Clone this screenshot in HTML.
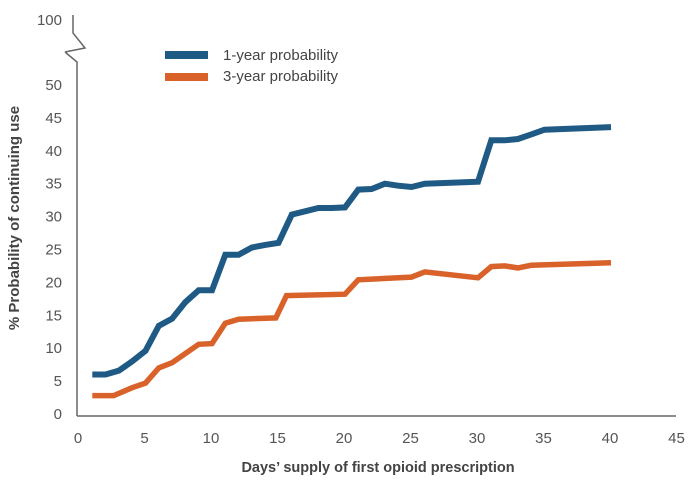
<!DOCTYPE html>
<html><head><meta charset="utf-8"><style>
body{margin:0;background:#fff;}
svg{font-family:"Liberation Sans",sans-serif;}
</style></head><body>
<svg width="696" height="494" viewBox="0 0 696 494" id="chart">
<g id="axes"></g>
<g id="series"></g>
<g>
<line x1="165" y1="55" x2="208" y2="55" stroke="#1f5a85" stroke-width="8"/>
<text x="223" y="60" font-size="15" fill="#444">1-year probability</text>
<line x1="165" y1="77" x2="208" y2="77" stroke="#d9622b" stroke-width="8"/>
<text x="223" y="81" font-size="15" fill="#444">3-year probability</text>
</g>
<text x="19" y="218" transform="rotate(-90 19 218)" text-anchor="middle" font-size="15" font-weight="bold" fill="#444">% Probability of continuing use</text>
<text x="378" y="472" text-anchor="middle" font-size="14.5" font-weight="bold" fill="#444">Days’ supply of first opioid prescription</text>
</svg>
<script>
const xTicks=[0,5,10,15,20,25,30,35,40,45];
const yTicks=[0,5,10,15,20,25,30,35,40,45,50];
const days1=[1,2,3,4,5,6,7,8,9,10,11,12,13,14,15,16,17,18,19,20,21,22,23,24,25,26,30,31,32,33,34,35,40];
const prob1=[6,6,6.6,8,9.6,13.4,14.5,17,18.8,18.8,24.2,24.2,25.3,25.7,26,30.3,30.8,31.3,31.3,31.4,34.1,34.2,35,34.7,34.5,35,35.3,41.6,41.6,41.8,42.5,43.2,43.6];
const days3=[1,2,2.6,4,5,6,7,8,9,10,11,12,14.8,15.6,20,21,25,26,30,31,32,33,34,40];
const prob3=[2.8,2.8,2.8,4,4.7,7,7.8,9.2,10.6,10.7,13.8,14.4,14.6,18,18.2,20.4,20.8,21.6,20.7,22.4,22.5,22.2,22.6,23];
const NS='http://www.w3.org/2000/svg';
const X=v=>79+v*13.3;
const Y=v=>414-v*6.58;
function mk(t,a,p){const e=document.createElementNS(NS,t);for(const k in a)e.setAttribute(k,a[k]);p.appendChild(e);return e;}
const ax=document.getElementById('axes');
let e=mk('line',{x1:77,y1:416,x2:676,y2:416,stroke:'#666','stroke-width':1.5},ax);


e=mk('path',{d:'M73 15 L73 33 L85 48 L65 52 M65 52 L77 62 L77 416',fill:'none',stroke:'#666','stroke-width':1.5},ax);


e=mk('text',{x:62,y:25,'text-anchor':'end','font-size':15,fill:'#555'},ax);e.textContent='100';


xTicks.forEach(t=>{const el=mk('text',{x:X(t)-1,y:443,'text-anchor':'middle','font-size':15,fill:'#555'},ax);el.textContent=t;

});
yTicks.forEach(t=>{const el=mk('text',{x:62,y:Y(t)+5,'text-anchor':'end','font-size':15,fill:'#555'},ax);el.textContent=t;

});
const sg=document.getElementById('series');
function line(xs,ys,c,w,n){const d=xs.map((x,i)=>(i?'L':'M')+X(x).toFixed(1)+' '+Y(ys[i]).toFixed(1)).join(' ');
const el=mk('path',{d:d,fill:'none',stroke:c,'stroke-width':w,'stroke-linejoin':'miter'},sg);

}
line(days3,prob3,'#d9622b',5.5,'line-3-year');
line(days1,prob1,'#1f5a85',6,'line-1-year');
</script>
</body></html>
